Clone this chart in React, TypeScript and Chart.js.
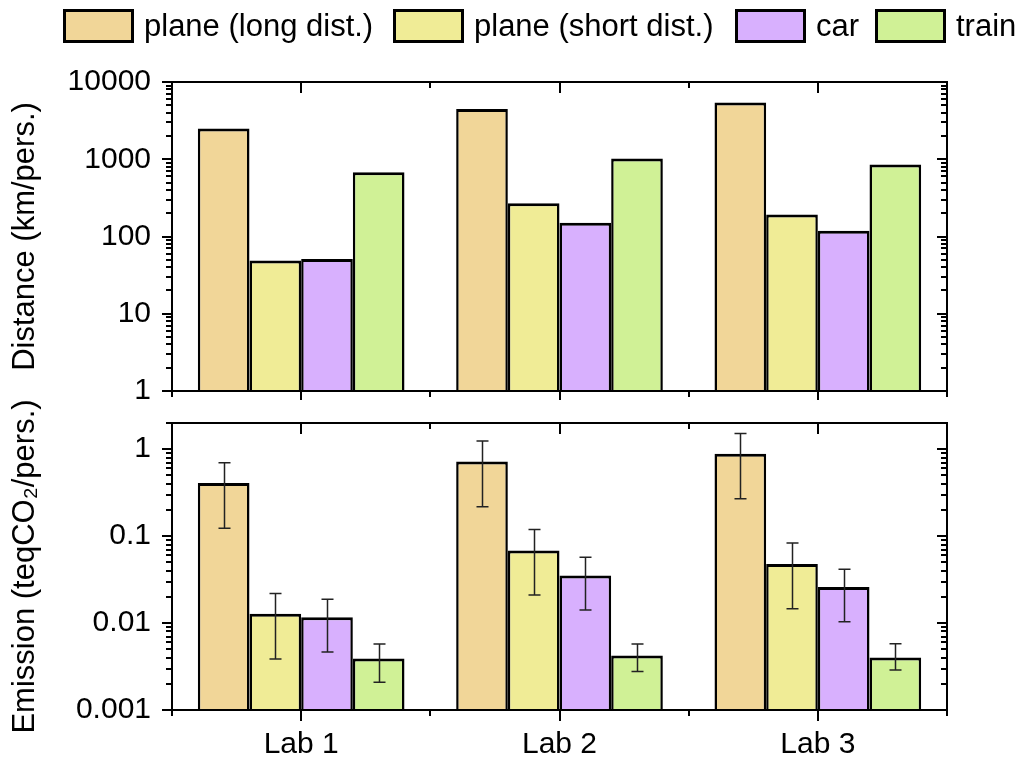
import React, { useEffect, useRef } from "react";
import { Chart, registerables } from "chart.js";
Chart.register(...registerables);

// ---------- data ----------
const labs = ["Lab 1", "Lab 2", "Lab 3"];
const seriesNames = ["plane (long dist.)", "plane (short dist.)", "car", "train"];
const seriesColors = ["#F1D698", "#F0EC96", "#D8B0FE", "#D0F196"];

// Distance (km/pers.)
const distPlaneLong = [2500, 4470, 5410];
const distPlaneShort = [49, 269, 192];
const distCar = [51, 151, 119];
const distTrain = [678, 1020, 853];

// Emission (teqCO2/pers.)
const emisPlaneLong = [0.407, 0.721, 0.883];
const emisPlaneLongLow = [0.123, 0.218, 0.269];
const emisPlaneLongHigh = [0.697, 1.245, 1.51];
const emisPlaneShort = [0.0128, 0.0682, 0.0478];
const emisPlaneShortLow = [0.00386, 0.021, 0.0146];
const emisPlaneShortHigh = [0.0219, 0.119, 0.0836];
const emisCar = [0.0117, 0.0352, 0.0259];
const emisCarLow = [0.00465, 0.0141, 0.01038];
const emisCarHigh = [0.0188, 0.0571, 0.0416];
const emisTrain = [0.00391, 0.00423, 0.00401];
const emisTrainLow = [0.00209, 0.00277, 0.00289];
const emisTrainHigh = [0.00574, 0.00574, 0.0058];

const distTicks = [1, 10, 100, 1000, 10000];
const emisTicks = [0.001, 0.01, 0.1, 1];

const FONT = "'Liberation Sans', Arial, sans-serif";
const legendLefts = [63, 393, 735, 875];

// ---------- plugins ----------
const frameTicks = {
  id: "frameTicks",
  afterDraw(chart: any) {
    const { ctx, chartArea } = chart;
    const { left, right, top, bottom } = chartArea;
    const xs = chart.scales.x;
    const ys = chart.scales.y;
    ctx.save();
    ctx.strokeStyle = "#000";
    ctx.lineWidth = 2;
    ctx.strokeRect(left, top, right - left, bottom - top);
    const e0 = Math.floor(Math.log10(ys.min) + 1e-9);
    const e1 = Math.ceil(Math.log10(ys.max) - 1e-9);
    ctx.beginPath();
    for (let e = e0; e <= e1; e++) {
      for (let k = 1; k <= 9; k++) {
        const v = k * Math.pow(10, e);
        if (v < ys.min * 0.999 || v > ys.max * 1.001) continue;
        const py = Math.round(ys.getPixelForValue(v));
        const len = k === 1 ? 10 : 6;
        ctx.moveTo(left - len, py);
        ctx.lineTo(left, py);
        ctx.moveTo(right - len, py);
        ctx.lineTo(right, py);
      }
    }
    const n = chart.data.labels.length;
    const c0 = xs.getPixelForValue(0);
    const step = n > 1 ? xs.getPixelForValue(1) - c0 : right - left;
    for (let i = 0; i < n; i++) {
      const px = Math.round(xs.getPixelForValue(i));
      ctx.moveTo(px, bottom);
      ctx.lineTo(px, bottom + 11);
      ctx.moveTo(px, top);
      ctx.lineTo(px, top + 11);
    }
    for (let i = 0; i <= n; i++) {
      const bx = Math.round(c0 - step / 2 + i * step);
      ctx.moveTo(bx, bottom);
      ctx.lineTo(bx, bottom + 6);
      ctx.moveTo(bx, top);
      ctx.lineTo(bx, top + 6);
    }
    ctx.stroke();
    ctx.restore();
  },
};

const errorBars = {
  id: "errorBars",
  afterDatasetsDraw(chart: any) {
    const { ctx } = chart;
    const ys = chart.scales.y;
    ctx.save();
    ctx.strokeStyle = "#222";
    ctx.lineWidth = 1.5;
    chart.data.datasets.forEach((ds: any, i: number) => {
      if (!ds.errLow || !ds.errHigh) return;
      const meta = chart.getDatasetMeta(i);
      meta.data.forEach((el: any, j: number) => {
        const x = Math.round(el.x) + 0.5;
        const yl = ys.getPixelForValue(ds.errLow[j]);
        const yh = ys.getPixelForValue(ds.errHigh[j]);
        ctx.beginPath();
        ctx.moveTo(x, yl);
        ctx.lineTo(x, yh);
        ctx.moveTo(x - 6, yl);
        ctx.lineTo(x + 6, yl);
        ctx.moveTo(x - 6, yh);
        ctx.lineTo(x + 6, yh);
        ctx.stroke();
      });
    });
    ctx.restore();
  },
};

function makeDatasets(values: number[][], lows?: number[][], highs?: number[][]) {
  return values.map((v, i) => ({
    label: seriesNames[i],
    data: v,
    errLow: lows ? lows[i] : undefined,
    errHigh: highs ? highs[i] : undefined,
    backgroundColor: seriesColors[i],
    borderColor: "#000",
    borderWidth: { top: 3, left: 2.5, right: 2.5, bottom: 0 },
    borderSkipped: false,
    categoryPercentage: 0.8,
    barPercentage: 1,
  }));
}

function yScale(min: number, max: number, ticks: number[], title: string) {
  return {
    type: "logarithmic",
    min,
    max,
    grid: { display: false, drawTicks: false },
    border: { display: false },
    afterBuildTicks(s: any) {
      s.ticks = ticks.map((v) => ({ value: v }));
    },
    ticks: {
      callback: (v: any) => String(v),
      font: { family: FONT, size: 30 },
      color: "#000",
      padding: 21,
    },
    title: {
      display: true,
      text: title,
      font: { family: FONT, size: 31 },
      color: "#000",
      padding: { top: 7, bottom: 0 },
    },
    afterFit(s: any) {
      s.width = 172;
      s.paddingTop = 0;
      s.paddingBottom = 0;
    },
  };
}

function xScale(showLabels: boolean, height: number) {
  return {
    grid: { display: false, drawTicks: false },
    border: { display: false },
    ticks: {
      display: showLabels,
      font: { family: FONT, size: 30 },
      color: "#000",
      padding: 17,
      maxRotation: 0,
    },
    afterFit(s: any) {
      s.height = height;
      s.paddingLeft = 0;
      s.paddingRight = 0;
    },
  };
}

function TopChart() {
  const ref = useRef<HTMLCanvasElement>(null);
  useEffect(() => {
    const chart = new Chart(ref.current as HTMLCanvasElement, {
      type: "bar",
      data: {
        labels: labs,
        datasets: makeDatasets([distPlaneLong, distPlaneShort, distCar, distTrain]) as any,
      },
      options: {
        animation: false,
        responsive: false,
        maintainAspectRatio: false,
        layout: { padding: { top: 82, right: 76, bottom: 0, left: 0 } },
        plugins: { legend: { display: false }, tooltip: { enabled: false } },
        scales: {
          x: xScale(false, 9) as any,
          y: yScale(1, 10000, distTicks, "Distance (km/pers.)") as any,
        },
      },
      plugins: [frameTicks],
    });
    return () => chart.destroy();
  }, []);
  return (
    <canvas
      ref={ref}
      width={1023}
      height={400}
      style={{ position: "absolute", left: 0, top: 0, width: 1023, height: 400 }}
    />
  );
}

function BottomChart() {
  const ref = useRef<HTMLCanvasElement>(null);
  useEffect(() => {
    const chart = new Chart(ref.current as HTMLCanvasElement, {
      type: "bar",
      data: {
        labels: labs,
        datasets: makeDatasets(
          [emisPlaneLong, emisPlaneShort, emisCar, emisTrain],
          [emisPlaneLongLow, emisPlaneShortLow, emisCarLow, emisTrainLow],
          [emisPlaneLongHigh, emisPlaneShortHigh, emisCarHigh, emisTrainHigh]
        ) as any,
      },
      options: {
        animation: false,
        responsive: false,
        maintainAspectRatio: false,
        layout: { padding: { top: 23, right: 76, bottom: 0, left: 0 } },
        plugins: { legend: { display: false }, tooltip: { enabled: false } },
        scales: {
          x: xScale(true, 52) as any,
          y: yScale(0.001, 2, emisTicks, "Emission (teqCO\u2082/pers.)") as any,
        },
      },
      plugins: [frameTicks, errorBars],
    });
    return () => chart.destroy();
  }, []);
  return (
    <canvas
      ref={ref}
      width={1023}
      height={362}
      style={{ position: "absolute", left: 0, top: 400, width: 1023, height: 362 }}
    />
  );
}

function Legend() {
  return (
    <>
      {seriesNames.map((name, i) => (
        <div
          key={name}
          style={{
            position: "absolute",
            left: legendLefts[i],
            top: 9,
            display: "flex",
            alignItems: "center",
            fontFamily: FONT,
            fontSize: 31,
            color: "#000",
            whiteSpace: "nowrap",
          }}
        >
          <div
            style={{
              width: 71,
              height: 34,
              boxSizing: "border-box",
              border: "3px solid #000",
              background: seriesColors[i],
            }}
          />
          <span style={{ marginLeft: 10, lineHeight: "34px" }}>{name}</span>
        </div>
      ))}
    </>
  );
}

export default function App() {
  return (
    <div
      style={{
        position: "absolute",
        left: 0,
        top: 0,
        width: 1023,
        height: 762,
        background: "#fff",
        overflow: "hidden",
      }}
    >
      <TopChart />
      <BottomChart />
      <Legend />
    </div>
  );
}
